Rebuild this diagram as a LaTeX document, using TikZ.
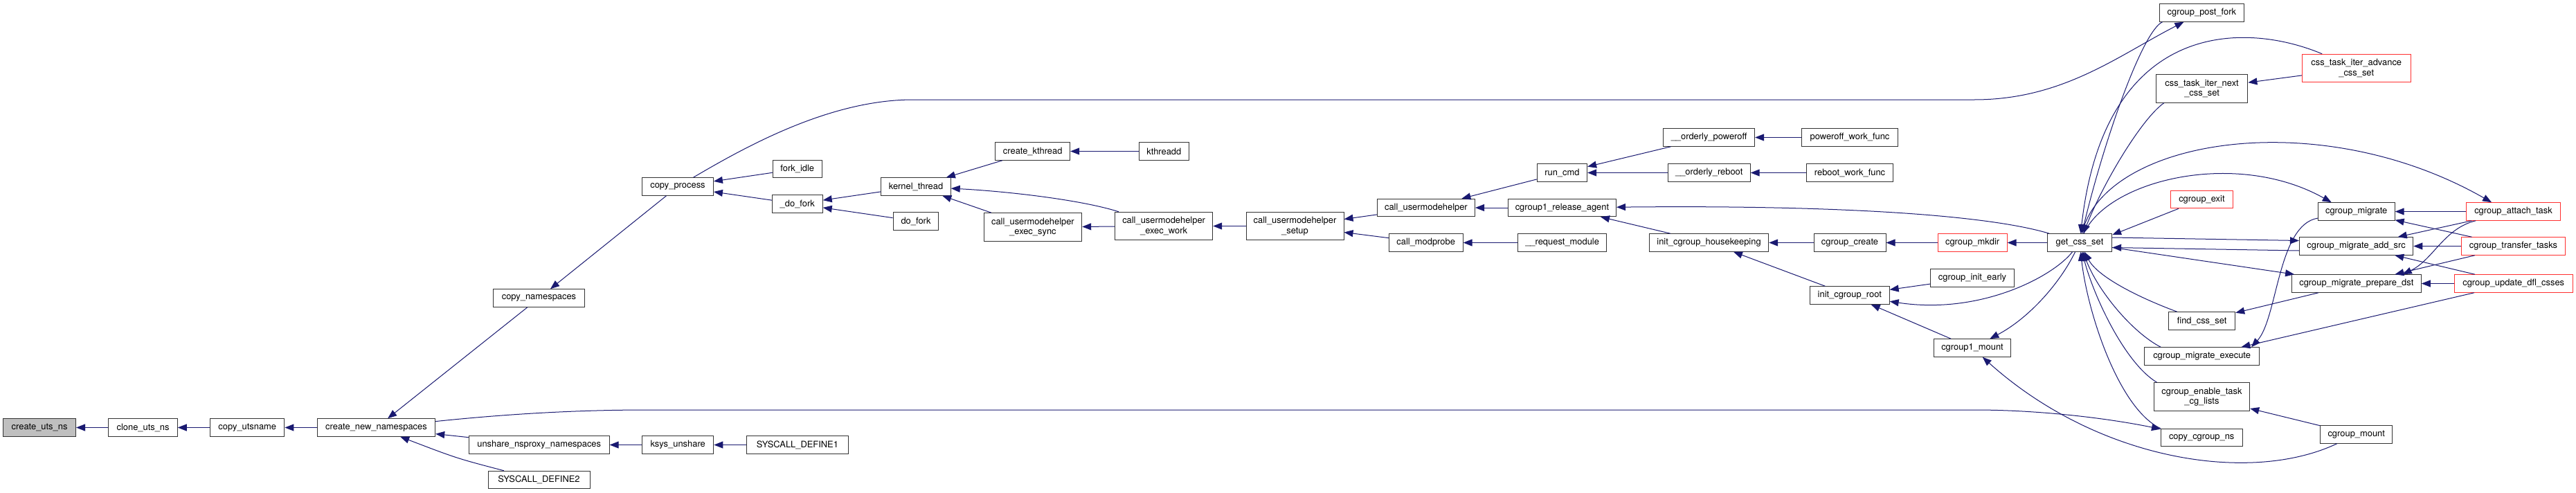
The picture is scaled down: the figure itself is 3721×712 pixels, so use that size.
\documentclass[tikz,border=0pt]{standalone}
\usepackage{fontspec}
\setmainfont{TeX Gyre Heros}
\usepackage{tikz}
\usetikzlibrary{arrows.meta}
\definecolor{edgeblue}{HTML}{191970}
\definecolor{rootgray}{HTML}{BFBFBF}
\definecolor{boxred}{HTML}{FF3030}

\begin{document}
\begin{tikzpicture}[x=1pt,y=-1pt,
  fn/.style={draw=black!80,fill=white,line width=1pt,inner sep=0pt,minimum height=25.5pt,align=center,font=\fontsize{12.9}{14.6}\selectfont},
  fntwo/.style={fn,minimum height=40.5pt},
  fnred/.style={fn,draw=boxred},
  fnroot/.style={fn,fill=rootgray},
  call/.style={-{Triangle[length=13pt,width=10pt]},draw=edgeblue,line width=1pt}
]
\useasboundingbox (0,0) rectangle (3721,712);

\node[fnroot,minimum width=104.8pt] (cun) at (57.1,617.5) {create\_uts\_ns};
\node[fn,minimum width=99.3pt] (cln) at (206.6,617.5) {clone\_uts\_ns};
\node[fn,minimum width=107.2pt] (cpu) at (357.3,617.5) {copy\_utsname};
\node[fn,minimum width=170.4pt] (cnn) at (543.5,617.5) {create\_new\_namespaces};
\node[fn,minimum width=131.3pt] (cns) at (778.5,430.5) {copy\_namespaces};
\node[fn,minimum width=202.9pt] (unp) at (778.7,642.5) {unshare\_nsproxy\_namespaces};
\node[fn,minimum width=147pt] (sd2) at (778.5,693) {SYSCALL\_DEFINE2};
\node[fn,minimum width=103.2pt] (ksu) at (979.2,642.5) {ksys\_unshare};
\node[fn,minimum width=147.1pt] (sd1) at (1151.9,642.5) {SYSCALL\_DEFINE1};
\node[fn,minimum width=102.8pt] (cpr) at (979,269.5) {copy\_process};
\node[fn,minimum width=71.2pt] (fki) at (1151.8,244) {fork\_idle};
\node[fn,minimum width=72.8pt] (dfk) at (1151.8,294.5) {\_do\_fork};
\node[fn,minimum width=100.4pt] (kth) at (1323,269.5) {kernel\_thread};
\node[fn,minimum width=65.7pt] (dof) at (1323,319.5) {do\_fork};
\node[fn,minimum width=107.9pt] (ckt) at (1491.7,218.5) {create\_kthread};
\node[fn,minimum width=71.9pt] (ktd) at (1681.3,218.5) {kthreadd};
\node[fntwo,minimum width=141.6pt] (ces) at (1491.9,328) {call\_usermodehelper\\\_exec\_sync};
\node[fntwo,minimum width=141.2pt] (cew) at (1681.1,326.5) {call\_usermodehelper\\\_exec\_work};
\node[fntwo,minimum width=141pt] (cus) at (1870.5,326.5) {call\_usermodehelper\\\_setup};
\node[fn,minimum width=141.2pt] (cuh) at (2059.9,300) {call\_usermodehelper};
\node[fn,minimum width=106.8pt] (cmp) at (2059.7,350.5) {call\_modprobe};
\node[fn,minimum width=72.4pt] (rcm) at (2256.4,249.5) {run\_cmd};
\node[fn,minimum width=156.2pt] (cra) at (2256.4,300) {cgroup1\_release\_agent};
\node[fn,minimum width=128.1pt] (rqm) at (2256.6,350.5) {\_\_request\_module};
\node[fn,minimum width=132pt] (opo) at (2468.6,198.5) {\_\_orderly\_poweroff};
\node[fn,minimum width=119pt] (ore) at (2468.7,249.5) {\_\_orderly\_reboot};
\node[fn,minimum width=172.4pt] (ich) at (2468.5,350.5) {init\_cgroup\_housekeeping};
\node[fn,minimum width=138.8pt] (pwf) at (2672,198.5) {poweroff\_work\_func};
\node[fn,minimum width=125.3pt] (rwf) at (2672,249.5) {reboot\_work\_func};
\node[fn,minimum width=104pt] (ccr) at (2672,350.5) {cgroup\_create};
\node[fnred,minimum width=100pt] (cmk) at (2849.1,350.5) {cgroup\_mkdir};
\node[fn,minimum width=93.3pt] (gcs) at (3004,350.5) {get\_css\_set};
\node[fn,minimum width=120.2pt] (cie) at (2849,401.5) {cgroup\_init\_early};
\node[fn,minimum width=114.7pt] (icr) at (2671.8,426.5) {init\_cgroup\_root};
\node[fn,minimum width=110.7pt] (c1m) at (2849,502.5) {cgroup1\_mount};
\node[fn,minimum width=122.8pt] (cpf) at (3180.4,18.5) {cgroup\_post\_fork};
\node[fntwo,draw=boxred,minimum width=156.8pt] (tia) at (3403.7,98.5) {css\_task\_iter\_advance\\\_css\_set};
\node[fntwo,minimum width=132.6pt] (tin) at (3180.6,128) {css\_task\_iter\_next\\\_css\_set};
\node[fnred,minimum width=89.5pt] (cex) at (3180.4,288) {cgroup\_exit};
\node[fn,minimum width=110.9pt] (cmi) at (3403.7,305.5) {cgroup\_migrate};
\node[fnred,minimum width=135.8pt] (cat) at (3630.5,305.5) {cgroup\_attach\_task};
\node[fn,minimum width=164.3pt] (cas) at (3403.6,355.5) {cgroup\_migrate\_add\_src};
\node[fnred,minimum width=150.9pt] (ctt) at (3630.5,355.5) {cgroup\_transfer\_tasks};
\node[fn,minimum width=186.9pt] (cpd) at (3403.8,409.5) {cgroup\_migrate\_prepare\_dst};
\node[fnred,minimum width=171.1pt] (cud) at (3630.7,409.5) {cgroup\_update\_dfl\_csses};
\node[fn,minimum width=96.2pt] (fcs) at (3180.6,463.5) {find\_css\_set};
\node[fn,minimum width=166pt] (cme) at (3180.6,514.5) {cgroup\_migrate\_execute};
\node[fntwo,minimum width=138.6pt] (cet) at (3180.4,573) {cgroup\_enable\_task\\\_cg\_lists};
\node[fn,minimum width=117.6pt] (ccn) at (3180.2,632) {copy\_cgroup\_ns};
\node[fn,minimum width=103.7pt] (cmo) at (3403.7,627.5) {cgroup\_mount};

\draw[call] (cln) -- (cun);
\draw[call] (cpu) -- (cln);
\draw[call] (cnn) -- (cpu);
\draw[call] (cns) -- (cnn);
\draw[call] (unp) -- (cnn);
\draw[call] (sd2) .. controls (660,662) .. (cnn);
\draw[call] (cpr) -- (cns);
\draw[call] (ksu) -- (unp);
\draw[call] (sd1) -- (ksu);
\draw[call] (fki) -- (cpr);
\draw[call] (dfk) -- (cpr);
\draw[call] (kth) -- (dfk);
\draw[call] (dof) -- (dfk);
\draw[call] (ckt) -- (kth);
\draw[call] (ces) -- (kth);
\draw[call] (cew) .. controls (1560,288) and (1450,276) .. (kth);
\draw[call] (ktd) -- (ckt);
\draw[call] (cew) -- (ces);
\draw[call] (cus) -- (cew);
\draw[call] (cuh) -- (cus);
\draw[call] (cmp) -- (cus);
\draw[call] (rcm) -- (cuh);
\draw[call] (cra) -- (cuh);
\draw[call] (rqm) -- (cmp);
\draw[call] (opo) -- (rcm);
\draw[call] (ore) -- (rcm);
\draw[call] (pwf) -- (opo);
\draw[call] (rwf) -- (ore);
\draw[call] (gcs) .. controls (2870,310) and (2650,296) .. (cra);
\draw[call] (ich) -- (cra);
\draw[call] (ccr) -- (ich);
\draw[call] (cmk) -- (ccr);
\draw[call] (gcs) -- (cmk);
\draw[call] (icr) -- (ich);
\draw[call] (cie) -- (icr);
\draw[call] (gcs) .. controls (2965,400) and (2860,455) .. (icr);
\draw[call] (c1m) -- (icr);
\draw[call] (gcs) .. controls (2975,410) and (2930,460) .. (c1m);
\draw[call] (cmo) .. controls (3250,700) and (3030,665) .. (c1m);
\draw[call] (cpr) .. controls (1080,210) and (1200,144) .. (1319,144) -- (2852,144) .. controls (2980,144) and (3060,80) .. (cpf);
\draw[call] (cnn) .. controls (750,596) and (850,592) .. (936,592) -- (2852,592) .. controls (2950,592) and (3050,605) .. (ccn);

\draw[call] ([xshift=5pt]cpf.south west) .. controls (3095,45) and (3040,200) .. (gcs);
\draw[call] ([xshift=12pt]tin.south west) .. controls (3095,170) and (3040,260) .. (gcs);
\draw[call] (tia) .. controls (3240,30) and (3040,30) .. (gcs);
\draw[call] (tia) -- (tin);
\draw[call] (gcs) .. controls (3045,260) and (3230,215) .. ([xshift=20pt]cmi.north west);
\draw[call] (gcs) .. controls (3040,200) and (3350,150) .. ([xshift=37pt]cat.north west);
\draw[call] (cex) -- ([yshift=-2pt]gcs.north east);
\draw[call] ([yshift=7.5pt]gcs.east) -- ([yshift=8pt]cas.west);
\draw[call] ([yshift=-6.5pt]cas.west) -- ([yshift=-7pt]gcs.east);
\draw[call] (gcs) -- (cpd);
\draw[call] (fcs) .. controls (3090,430) and (3030,400) .. (gcs);
\draw[call] ([xshift=24pt]cme.north west) .. controls (3080,480) and (3030,420) .. (gcs);
\draw[call] ([xshift=5pt]cet.north west) .. controls (3070,525) and (3025,430) .. (gcs);
\draw[call] (ccn.north west) .. controls (3060,590) and (3015,450) .. (gcs);
\draw[call] (cmi) .. controls (3290,325) and (3290,460) .. ([xshift=-12pt]cme.north east);
\draw[call] (cud) -- (cme);
\draw[call] (cpd) -- (fcs);
\draw[call] (cud) -- (cpd);
\draw[call] (cud) -- (cas);
\draw[call] (ctt) -- (cpd);
\draw[call] (cat) .. controls (3530,330) and (3515,375) .. ([xshift=-27pt]cpd.north east);
\draw[call] (cat) -- (cas);
\draw[call] (cat) -- (cmi);
\draw[call] (ctt) -- (cmi);
\draw[call] (ctt) -- (cas);
\draw[call] (cmo) -- (cet);
\end{tikzpicture}
\end{document}
